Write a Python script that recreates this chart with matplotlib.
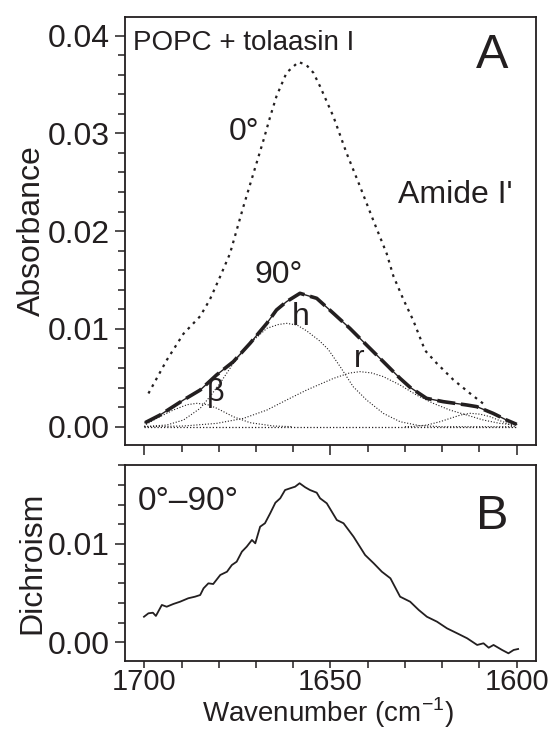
import numpy as np
import matplotlib.pyplot as plt
from matplotlib.ticker import MultipleLocator

plt.rcParams['font.family'] = ['Liberation Sans', 'DejaVu Sans']
ink = '#231f20'

# ---- panel A: polarized ATR spectra ----
wn_0 = [1698.9, 1694.0, 1689.5, 1685.0, 1682.4, 1679.7, 1677.0, 1673.4, 1670.7, 1668.0,
        1666.2, 1664.5, 1661.8, 1658.6, 1656.5, 1654.6, 1652.8, 1649.2, 1645.7, 1642.1,
        1638.5, 1634.9, 1633.1, 1630.4, 1627.8, 1624.6, 1621.5, 1617.0, 1612.5, 1608.1]
abs_0 = [0.0034, 0.0068, 0.0095, 0.0113, 0.0130, 0.0153, 0.0177, 0.0225, 0.0259, 0.0293,
         0.0317, 0.0338, 0.0362, 0.0373, 0.0370, 0.0362, 0.0348, 0.0317, 0.0280, 0.0246,
         0.0211, 0.0177, 0.0154, 0.0130, 0.0109, 0.0078, 0.0065, 0.0048, 0.0034, 0.0021]

wn_90 = [1699.8, 1695.8, 1689.5, 1685.0, 1680.6, 1676.1, 1671.6, 1667.1, 1664.5, 1661.8,
         1658.2, 1653.7, 1649.2, 1644.8, 1640.3, 1635.8, 1631.3, 1628.6, 1624.2, 1619.7,
         1613.4, 1610.7, 1606.3, 1602.7, 1600.0]
abs_90 = [0.00041, 0.00119, 0.00273, 0.00375, 0.00529, 0.00665, 0.00853, 0.01057, 0.01194, 0.01279,
          0.01364, 0.01313, 0.01159, 0.01006, 0.00835, 0.00665, 0.00494, 0.00402, 0.00290, 0.00256,
          0.00222, 0.00205, 0.00136, 0.00068, 0.00024]

# band components of the 90 deg fit
wn_beta = [1700.0, 1699.8, 1696.7, 1692.2, 1688.5, 1685.9, 1683.0, 1680.5, 1676.1, 1671.6, 1665.3, 1660.0]
abs_beta = [0.0, 0.00017, 0.00086, 0.00171, 0.00225, 0.00239, 0.00225, 0.00188, 0.00102, 0.00041, 0.00007, 0.0]

wn_h = [1700.0, 1694.0, 1689.5, 1685.0, 1682.4, 1679.7, 1676.1, 1671.6, 1667.1, 1664.0, 1661.8,
        1659.0, 1656.4, 1653.0, 1650.6, 1647.4, 1643.9, 1640.3, 1635.8, 1631.3, 1626.0, 1620.0, 1600.0]
abs_h = [0.00002, 0.00017, 0.00068, 0.00188, 0.00307, 0.00443, 0.00648, 0.00853, 0.01006, 0.01045, 0.01057,
         0.01040, 0.00980, 0.00880, 0.00790, 0.00614, 0.00409, 0.00273, 0.00136, 0.00051, 0.00010, 0.0, 0.0]

wn_r = [1700.0, 1689.5, 1680.6, 1673.4, 1667.1, 1661.8, 1656.4, 1649.2, 1645.0, 1642.1, 1639.0,
        1635.8, 1631.3, 1626.9, 1622.4, 1617.9, 1613.4, 1608.9, 1604.5, 1600.0]
abs_r = [0.0, 0.00007, 0.00034, 0.00085, 0.00170, 0.00273, 0.00375, 0.00494, 0.00548, 0.00563, 0.00550,
         0.00512, 0.00426, 0.00324, 0.00239, 0.00170, 0.00119, 0.00068, 0.00034, 0.00017]

wn_sc = [1630.0, 1627.7, 1624.1, 1620.5, 1617.8, 1615.0, 1612.4, 1609.8, 1607.1, 1604.8, 1602.6, 1600.8]
abs_sc = [0.0, 0.00003, 0.00017, 0.00052, 0.00086, 0.00120, 0.00137, 0.00128, 0.00102, 0.00066, 0.00035, 0.0]

wn_base = [1700.0, 1600.0]
abs_base = [0.0, 0.0]

# ---- panel B: dichroic difference 0 - 90 ----
wn_d = [1700.1, 1698.9, 1697.7, 1696.9, 1695.3, 1694.0, 1692.2, 1690.4, 1688.2, 1686.4,
        1685.0, 1684.1, 1682.8, 1681.5, 1679.6, 1677.8, 1676.5, 1675.2, 1673.8, 1672.5,
        1671.1, 1670.2, 1668.9, 1667.6, 1666.2, 1664.8, 1663.5, 1662.2, 1660.8, 1659.5,
        1658.3, 1656.8, 1655.5, 1653.7, 1652.8, 1651.0, 1648.3, 1646.5, 1643.8, 1640.7,
        1638.4, 1636.2, 1633.9, 1631.3, 1628.6, 1626.3, 1624.1, 1621.4, 1618.7, 1616.0,
        1613.3, 1610.6, 1608.9, 1607.5, 1606.2, 1603.9, 1602.2, 1600.8, 1599.6]
dich = [0.00260, 0.00295, 0.00301, 0.00268, 0.00380, 0.00362, 0.00390, 0.00413, 0.00448, 0.00464,
        0.00481, 0.00549, 0.00600, 0.00593, 0.00685, 0.00718, 0.00786, 0.00820, 0.00922, 0.00973,
        0.01041, 0.01007, 0.01176, 0.01211, 0.01312, 0.01420, 0.01465, 0.01549, 0.01567, 0.01583,
        0.01618, 0.01577, 0.01549, 0.01522, 0.01465, 0.01414, 0.01244, 0.01211, 0.01074, 0.00888,
        0.00804, 0.00718, 0.00651, 0.00464, 0.00413, 0.00329, 0.00260, 0.00210, 0.00142, 0.00092,
        0.00041, -0.00027, -0.00010, -0.00055, -0.00027, -0.00078, -0.00112, -0.00078, -0.00068]

fig = plt.figure(figsize=(5.56, 7.29), dpi=100)
axA = fig.add_axes([0.2248, 0.3896, 0.7392, 0.5871])
axB = fig.add_axes([0.2248, 0.0933, 0.7392, 0.2689])

dot_fine = (0, (1, 1.6))
axA.plot(wn_base, abs_base, color=ink, lw=0.9, ls=dot_fine)
for w, a in [(wn_beta, abs_beta), (wn_h, abs_h), (wn_r, abs_r), (wn_sc, abs_sc)]:
    axA.plot(w, a, color=ink, lw=0.8, ls=dot_fine)
axA.plot(wn_0, abs_0, color=ink, lw=1.6, ls=(0, (1.2, 2.2)))
axA.plot(wn_90, abs_90, color=ink, lw=1.0)
axA.plot(wn_90, abs_90, color=ink, lw=2.6, ls=(0, (5, 1.6)))

axB.plot(wn_d, dich, color=ink, lw=1.3)

for ax in (axA, axB):
    ax.set_xlim(1705.2, 1594.8)
    ax.xaxis.set_major_locator(MultipleLocator(50))
    ax.xaxis.set_minor_locator(MultipleLocator(10))
    ax.tick_params(which='both', direction='out', colors=ink, labelsize=23, width=1.1)
    ax.tick_params(which='major', length=7, pad=4)
    ax.tick_params(which='minor', length=5)
    ax.tick_params(top=False, right=False)
    for s in ax.spines.values():
        s.set_linewidth(1.3)
        s.set_color(ink)

axA.set_ylim(-0.00187, 0.0419)
axA.yaxis.set_major_locator(MultipleLocator(0.01))
axA.yaxis.set_minor_locator(MultipleLocator(0.002))
axA.set_yticks([0, 0.01, 0.02, 0.03, 0.04])
axA.set_yticklabels(['0.00', '0.01', '0.02', '0.03', '0.04'])
axA.tick_params(labelbottom=False)

axB.set_ylim(-0.0019, 0.01804)
axB.set_yticks([0, 0.01])
axB.set_yticklabels(['0.00', '0.01'])
axB.yaxis.set_minor_locator(MultipleLocator(0.002))
axB.set_xticks([1700, 1650, 1600])
axB.tick_params(axis='x', which='major', labelsize=21, pad=0, length=5)

axA.set_ylabel('Absorbance', fontsize=23, color=ink)
axB.set_ylabel('Dichroism', fontsize=23, color=ink)
axA.yaxis.set_label_coords(-0.19, 0.5)
axB.yaxis.set_label_coords(-0.19, 0.5)
fig.text(328 / 556, 1 - 722 / 729, 'Wavenumber (cm$^{\\mathregular{-1}}$)', fontsize=20,
         color=ink, ha='center', va='baseline')

axA.text(1703.0, 0.03854, 'POPC + tolaasin I', fontsize=20, color=ink, va='baseline')
axA.text(1606.5, 0.0367, 'A', fontsize=35, color=ink, ha='center', va='baseline')
axA.text(1677.3, 0.02933, '0°', fontsize=23, color=ink, va='baseline')
axA.text(1631.8, 0.02286, "Amide I'", fontsize=23, color=ink, va='baseline')
axA.text(1670.5, 0.0147, '90°', fontsize=23, color=ink, va='baseline')
axA.text(1660.5, 0.0104, 'h', fontsize=23, color=ink, va='baseline')
axA.text(1643.6, 0.0061, 'r', fontsize=23, color=ink, va='baseline')
axA.text(1680.9, 0.00263, 'β', fontsize=22, color=ink, ha='center', va='baseline')

axB.text(1701.7, 0.01346, '0°–90°', fontsize=24, color=ink, va='baseline')
axB.text(1606.5, 0.01153, 'B', fontsize=35, color=ink, ha='center', va='baseline')

fig.savefig('out.png', dpi=100)
